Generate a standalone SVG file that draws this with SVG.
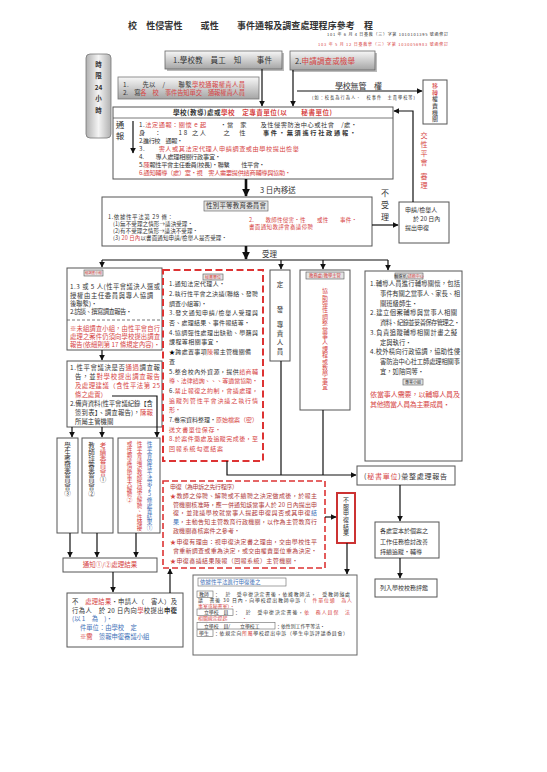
<svg xmlns="http://www.w3.org/2000/svg" width="547" height="772" viewBox="0 0 547 772">
<defs>
<style>
text{font-family:"Noto Sans CJK TC","Noto Sans CJK SC",sans-serif;fill:#333;}
.r{fill:#d64545}
.b{fill:#3f72b8}
.dr{fill:#b03a3a}
.bx{fill:#fff;stroke:#555;stroke-width:1}
.tb{fill:#e4e4e4;stroke:#555;stroke-width:0.6}
.ln{fill:none;stroke:#111;stroke-width:1.2}
.thk{fill:none;stroke:#111;stroke-width:2.6}
.v{writing-mode:vertical-rl;text-orientation:upright}
</style>
<linearGradient id="g1" x1="0" y1="0" x2="0" y2="1"><stop offset="0" stop-color="#f7f7f7"/><stop offset="1" stop-color="#a5a5a5"/></linearGradient>
<linearGradient id="g2" x1="0" y1="0" x2="1" y2="0"><stop offset="0" stop-color="#b0b0b0"/><stop offset="0.5" stop-color="#f4f4f4"/><stop offset="1" stop-color="#b0b0b0"/></linearGradient>
<marker id="ah" viewBox="0 0 10 10" refX="9" refY="5" markerUnits="userSpaceOnUse" markerWidth="6" markerHeight="6" orient="auto"><path d="M0,0L10,5L0,10z" fill="#111"/></marker>
<marker id="ahb" viewBox="0 0 10 10" refX="9" refY="5" markerUnits="userSpaceOnUse" markerWidth="8" markerHeight="8" orient="auto"><path d="M0,0L10,5L0,10z" fill="#111"/></marker>
</defs>
<rect width="547" height="772" fill="#fff"/>

<g id="title">
<text x="128" y="28.5" font-size="9" font-weight="bold" textLength="245" fill="#222">校　性侵害性　　或性　　事件通報及調查處理程序參考　程</text>
<text x="327" y="35.5" font-size="4" textLength="121" fill="#6a3535">101 年 6 月 4 日臺教（三）字第 1010101395 號函修訂</text>
<text x="318" y="45.5" font-size="4" textLength="130" class="r">103 年 5 月 12 日臺教學（三）字第 1030056983 號函修訂</text>
</g>

<g id="timebox">
<rect x="86" y="54" width="25" height="84" rx="4" fill="url(#g2)" stroke="#777" stroke-width="0.8"/>
<g font-size="6.5" font-weight="bold" text-anchor="middle" fill="#222">
<text x="98.5" y="66.5">時</text>
<text x="98.5" y="77.5">限</text>
<text x="98.5" y="89.5">24</text>
<text x="98.5" y="100.5">小</text>
<text x="98.5" y="112.5">時</text>
</g>
</g>

<g id="n1">
<rect x="167" y="53" width="117" height="18" fill="#bbb"/>
<rect x="165" y="51" width="117" height="18" fill="url(#g1)" stroke="#666" stroke-width="0.8"/>
<text x="173" y="62.8" font-size="7.5" textLength="99">1.學校教　員工　知　　事件</text>
</g>

<g id="n2">
<rect x="292" y="53" width="85" height="19" fill="#bbb"/>
<rect x="290" y="51" width="85" height="19" fill="url(#g1)" stroke="#666" stroke-width="0.8"/>
<text x="295" y="63.5" font-size="7.5" textLength="60">2.<tspan class="r">申請調查或檢舉</tspan></text>
</g>

<g id="n3">
<rect x="118" y="77" width="141" height="22" fill="url(#g1)" stroke="#777" stroke-width="0.8"/>
<text x="123" y="87.3" font-size="6.3" textLength="122">1.　　先以　/　　聯繫<tspan class="r">學校通報權責人員</tspan></text>
<text x="123" y="95.3" font-size="6.3" textLength="122">2.　寫<tspan class="r">各　校　事件告知單交　通報權責人員</tspan></text>
</g>

<g id="n4">
<text x="335" y="89" font-size="8" textLength="47">學校無管　權</text>
<text x="312" y="98.5" font-size="4.2" textLength="103">(如：校長為行為人、　校事件　主責學校等)</text>
</g>

<g id="n5">
<rect x="423" y="80" width="24" height="44" class="bx"/>
<text x="435" y="83" font-size="6" class="v" letter-spacing="0.6"><tspan class="r">移轉</tspan>權責機關</text>
</g>

<g id="n6">
<rect x="113" y="107" width="280" height="72" class="bx"/>
<line x1="113" y1="118" x2="393" y2="118" stroke="#555" stroke-width="0.8"/>
<text x="173" y="115" font-size="6.6" font-weight="bold" textLength="159">學校(教導)處或<tspan class="r">學校　定專責單位(以　　秘書單位)</tspan></text>
<text x="120" y="128" font-size="8.5" text-anchor="middle" fill="#777">通</text>
<text x="120" y="139" font-size="8.5" text-anchor="middle" fill="#777">報</text>
<g font-size="6.2">
<text x="139" y="126.8" textLength="218">1.<tspan class="r">法定通報：關懷 e 起</tspan>　　・當　家　　及性侵害防治中心或社會　/處・</text>
<text x="139" y="134.9" textLength="217">身　：　　18 之人　　之　性　　<tspan font-weight="bold">事件・無須進行社政通報・</tspan></text>
<text x="139" y="143" textLength="44">2.進行校　通報・</text>
<text x="139" y="151.1" textLength="160">3.<tspan class="r">　　害人或其法定代理人申請調查或由學校提出檢舉</tspan></text>
<text x="139" y="159.2" textLength="82">4.　　專人處理相關行政事宜・</text>
<text x="139" y="167.3" textLength="126">5.<tspan class="r">陳</tspan>報性平會主任委員(校長)・聯繫　　性平會・</text>
<text x="139" y="175.4" textLength="152" class="r">6.通知輔導（處）室・視　害人需要提供諮商輔導與協助・</text>
</g>
</g>

<g id="n7">
<text x="260" y="192.7" font-size="7.5">3 日內移送</text>
<text x="385" y="196" font-size="8" text-anchor="middle" fill="#555">不</text>
<text x="385" y="208" font-size="8" text-anchor="middle" fill="#555">受</text>
<text x="385" y="220" font-size="8" text-anchor="middle" fill="#555">理</text>
<g font-size="7" text-anchor="middle">
<text x="424" y="137.5" class="r">交</text>
<text x="424" y="147" class="r">性</text>
<text x="424" y="156" class="r">平</text>
<text x="424" y="165" class="r">會</text>
<text x="424" y="179" class="r">審</text>
<text x="424" y="188" class="r">理</text>
</g>
</g>

<g id="n8">
<rect x="102" y="197" width="270" height="49" class="bx"/>
<rect x="204" y="201" width="64" height="10" class="tb"/>
<text x="236" y="208.4" font-size="6.5" text-anchor="middle" textLength="60">性別平等教育委員會</text>
<g font-size="5.5">
<text x="108" y="218.8" textLength="65">1.依據性平法第 29 條：</text>
<text x="113" y="225.8" textLength="80">(1)無不受理之情形→議決受理・</text>
<text x="113" y="233" textLength="85">(2)有不受理之情形→議決不受理・</text>
<text x="113" y="240.3" textLength="114">(3) <tspan class="r">20 日內</tspan>以書面通知申請/檢舉人是否受理・</text>
<text x="249" y="222" textLength="108" class="r">2.　　教師性侵害・性　　或性　　事件・</text>
<text x="249" y="229" textLength="64" class="r">書面通知教評會審議停聘</text>
</g>
<text x="262" y="257" font-size="7.5">受理</text>
</g>

<g id="n9">
<rect x="399" y="202" width="50" height="41" class="bx"/>
<g font-size="6">
<text x="405" y="212.2">申請/檢舉人</text>
<text x="413" y="220.5">於 20 日內</text>
<text x="405" y="230.2">提出申復</text>
</g>
</g>

<g id="n10">
<rect x="67" y="268" width="95" height="82" class="bx"/>
<rect x="84" y="270" width="19" height="6" class="tb" fill="#fff"/>
<text x="93.5" y="274.4" font-size="3.4" text-anchor="middle" class="r">組調查小組</text>
<line x1="67" y1="320" x2="162" y2="320" stroke="#555" stroke-width="0.8" stroke-dasharray="3,2"/>
<g font-size="6.3">
<text x="70" y="289.3" textLength="90">1.3 或 5 人(性平會議決人選或</text>
<text x="70" y="297.5" textLength="83">授權由主任委員與專人協調</text>
<text x="70" y="305.7">後聯繫)・</text>
<text x="70" y="313.9" textLength="62">2.訪談、撰寫調查報告・</text>
<text x="70" y="331" textLength="90" class="r">※未組調查小組，由性平會自行</text>
<text x="70" y="339.2" textLength="90" class="r">處理之案件仍須向學校提出調查</text>
<text x="70" y="347.4" textLength="90" class="r">報告(依細則第 17 條規定內容)・</text>
</g>
</g>

<g id="n11">
<rect x="67" y="361" width="95" height="66" class="bx"/>
<g font-size="6.4">
<text x="70" y="369.5" textLength="90">1.性平會議決是否<tspan class="r">通過</tspan>調查報</text>
<text x="75" y="378.5" textLength="85">告，並<tspan class="r">對學校提出調查報告</tspan></text>
<text x="75" y="387.5" textLength="85" class="r">及處理建議（含性平法第 25</text>
<text x="75" y="396.5" class="r">條之處置）</text>
<text x="70" y="405.5" textLength="83">2.備齊資料(性平會議紀錄【含</text>
<text x="75" y="414.5" textLength="78">簽到表】、調查報告)，<tspan class="r">陳報</tspan></text>
<text x="75" y="423.5">所屬主管機關</text>
</g>
</g>

<g id="n12">
<rect x="57" y="438" width="21" height="95" class="bx"/>
<text x="67.5" y="442" font-size="6.5" class="v" letter-spacing="0.4">學生獎懲委員會③</text>
</g>
<g id="n13">
<rect x="82" y="438" width="31" height="95" class="bx"/>
<text x="103" y="442" font-size="6.5" class="v" letter-spacing="0.4"><tspan class="r">考績委員會</tspan>①</text>
<text x="91.5" y="442" font-size="6.5" class="v" letter-spacing="0.4">教師評審委員會②</text>
</g>
<g id="n14">
<rect x="118" y="438" width="42" height="95" class="bx"/>
<text x="149.5" y="441" font-size="5.6" class="v b">性平會依性平法第25條處置結果①</text>
<text x="139.5" y="441" font-size="5.6" class="v r">性平會議決教師性侵害解聘、性騷擾</text>
<text x="129.5" y="441" font-size="5.6" class="v r">或性霸凌情節重大解聘②</text>
</g>

<g id="n15">
<rect x="63" y="558" width="94" height="14" class="bx"/>
<text x="110" y="567.3" font-size="6.5" text-anchor="middle" class="r">通知①/②處理結果</text>
</g>

<g id="n16">
<rect x="67" y="593" width="116" height="54" class="bx"/>
<g font-size="6.3">
<text x="72" y="604.3" textLength="105">不　<tspan class="r">處理結果</tspan>・申請人（　害人）及</text>
<text x="72" y="612.8" textLength="105">行為人　於 20 日內向<tspan class="r">學</tspan>校提出<tspan font-weight="bold">申復</tspan></text>
<text x="72" y="620.8" class="b">(以 1　為　)・</text>
<text x="80" y="629.5" class="b">件單位：由學校　定</text>
<text x="80" y="638.5"><tspan class="r">※需</tspan><tspan class="b">　簽報申復審議小組</tspan></text>
</g>
</g>

<g id="n17">
<rect x="163" y="270" width="100" height="191" fill="#fff" stroke="#d33" stroke-width="2" stroke-dasharray="7,3.5"/>
<rect x="203" y="274" width="20" height="6" class="tb" fill="#fff"/>
<text x="213" y="278.5" font-size="4" text-anchor="middle" class="r">秘書單位</text>
<g font-size="6">
<text x="169" y="286.2" textLength="56">1.通知法定代理人・</text>
<text x="169" y="295.9" textLength="89">2.執行性平會之決議(聯絡、發聘</text>
<text x="169" y="305.6">調查小組等)・</text>
<text x="169" y="315.3" textLength="89">3.發文通知申請/檢舉人受理與</text>
<text x="169" y="325" textLength="81">否、處理結果、事件報結等・</text>
<text x="169" y="334.7" textLength="89">4.協調彈性處理出缺勤、學籍與</text>
<text x="169" y="344.4" textLength="51">課程等相關事宜・</text>
<text x="169" y="354.1" textLength="82"><tspan fill="#000">★</tspan>跨處置事項<tspan class="r">陳</tspan>報主管機關備</text>
<text x="169" y="363.8">查</text>
<text x="169" y="373.5" textLength="89">5.整合校內外資源，提供<tspan class="r">諮商輔</tspan></text>
<text x="169" y="383.2" textLength="89" class="r">導、法律諮詢、、、等適當協助・</text>
<text x="169" y="392.9" textLength="89">6.<tspan class="r">禁止報復之約制，會議處理，</tspan></text>
<text x="169" y="402.6" textLength="89" class="r">追蹤列管性平會決議之執行情</text>
<text x="169" y="412.3" class="r">形・</text>
<text x="169" y="422" textLength="89">7.卷宗資料整理・<tspan class="r">原始檔案（密）</tspan></text>
<text x="169" y="431.7" textLength="52" class="r">送文書單位保存・</text>
<text x="169" y="441.4" textLength="89" class="r">8.於案件懲處及追蹤完成後，至</text>
<text x="169" y="451.1" textLength="54" class="r">回報系統勾選結案</text>
</g>
</g>

<g id="n18">
<rect x="270" y="270" width="20" height="91" class="bx"/>
<g font-size="6.5" text-anchor="middle">
<text x="280" y="287.3" fill="#3a8ab8">定</text>
<text x="280" y="312.3" fill="#3a8ab8">發</text>
<text x="280" y="327.3" fill="#3a8ab8">專</text>
<text x="280" y="336.3" fill="#3a8ab8">責</text>
<text x="280" y="345.3" fill="#3a8ab8">人</text>
<text x="280" y="354.3" fill="#3a8ab8">員</text>
</g>
</g>

<g id="n19">
<rect x="300" y="270" width="50" height="140" class="bx"/>
<rect x="306" y="272" width="38" height="7" class="tb" fill="#fff"/>
<text x="325" y="277.2" font-size="4.3" text-anchor="middle" class="r">教務處/教學主管</text>
<text x="325" y="288" font-size="6" class="v r" letter-spacing="0.4">協助彈性調整當事人課程或教學事宜</text>
</g>

<g id="n20">
<rect x="365" y="271" width="97" height="190" class="bx"/>
<rect x="395" y="273" width="28" height="6" class="tb" fill="#fff"/>
<text x="409" y="277.5" font-size="4" text-anchor="middle">輔導室/<tspan class="r">諮商中心</tspan></text>
<g font-size="6.3">
<text x="370" y="286.3" textLength="90">1.輔導人員進行輔導關懷，包括</text>
<text x="380" y="296" textLength="80">事件有關之當事人、家長、相</text>
<text x="380" y="305.7">關班級師生・</text>
<text x="370" y="315.4" textLength="87">2.建立個案輔導與當事人相關</text>
<text x="380" y="325.1" textLength="80">資料、紀錄並妥善保存管理之・</text>
<text x="370" y="334.8" textLength="87">3.負責追蹤輔導相關計畫之擬</text>
<text x="380" y="344.5">定與執行・</text>
<text x="370" y="354.2" textLength="90">4.校外橫向行政協調，協助性侵</text>
<text x="380" y="363.9" textLength="80">害防治中心社工師處理相關事</text>
<text x="380" y="373.6">宜，如陪同等・</text>
</g>
<rect x="403" y="379" width="20" height="6" class="tb"/>
<text x="413" y="383.5" font-size="4" text-anchor="middle">專業小組</text>
<text x="370" y="396.5" font-size="7" textLength="90" class="r">依當事人需要，以輔導人員及</text>
<text x="370" y="406.5" font-size="7" textLength="80" class="r">其他適當人員為主要成員・</text>
</g>

<g id="n21">
<rect x="357" y="466" width="98" height="19" class="bx"/>
<text x="364" y="478.5" font-size="7" textLength="83">(<tspan class="r">秘書單位</tspan>)彙整處理報告</text>
</g>

<g id="n22">
<rect x="375" y="522" width="64" height="36" class="bx"/>
<g font-size="6">
<text x="380" y="533.2">各處室本於個案之</text>
<text x="380" y="544.2">工作任務檢討改善</text>
<text x="380" y="554.2">持續追蹤・輔導</text>
</g>
</g>

<g id="n23">
<rect x="375" y="579" width="62" height="18" class="bx"/>
<text x="380" y="590.2" font-size="6">列入學校校務評鑑</text>
</g>

<g id="n24">
<rect x="163" y="481" width="162" height="87" fill="#fff" stroke="#d33" stroke-width="1.6" stroke-dasharray="6,3"/>
<g font-size="6">
<text x="170" y="489.2" textLength="68" class="dr">申復（為申訴之先行程序）</text>
<text x="170" y="498.2" textLength="147" class="dr"><tspan class="r">★</tspan>教師之停聘、解聘或不續聘之決定做成後，於報主</text>
<text x="173" y="506.8" textLength="144" class="dr">管機關核准時，應一併通知該當事人於 20 日內提出申</text>
<text x="173" y="515.4" textLength="144" class="dr">復，並建議學校就當事人提起申復與否或其申復<tspan class="b">結</tspan></text>
<text x="173" y="524" textLength="144" class="dr"><tspan class="b">果</tspan>，主動告知主管教育行政機關，以作為主管教育行</text>
<text x="173" y="532.6" textLength="67" class="dr">政機關審核案件之參考・</text>
<text x="170" y="544.2" textLength="147" class="dr"><tspan class="r">★</tspan>申復有理由：視申復決定書之理由，交由學校性平</text>
<text x="173" y="553.2" textLength="144" class="dr">會重新調查或重為決定，或交由權責單位重為決定・</text>
<text x="170" y="563.2" textLength="128" class="dr"><tspan class="r">★</tspan>申復審議結果陳報（回報系統）主管機關・</text>
</g>
</g>

<g id="n25">
<rect x="337" y="493" width="18" height="50" fill="#fff" stroke="#c33" stroke-width="2"/>
<text x="346" y="497" font-size="6" class="v" letter-spacing="0.6">不服申復結果</text>
</g>

<g id="n26">
<rect x="193" y="575" width="164" height="80" fill="#fff" stroke="#666" stroke-width="1"/>
<rect x="198" y="578" width="88" height="8" fill="#fff" stroke="#666" stroke-width="0.6"/>
<text x="200" y="584.2" font-size="5.5" class="b">依據性平法進行申復後之</text>
<g font-size="4.9">
<rect x="197" y="591" width="16" height="6.5" fill="none" stroke="#666" stroke-width="0.6"/>
<text x="199" y="596">教師</text>
<text x="214" y="596" textLength="136">：　於　受申復決定書後，依據教師法，　受教師懲處</text>
<text x="198" y="602" textLength="154">議　書後 30 日內，向學校提出教師申訴（<tspan class="r">　件單位通　為人</tspan></text>
<text x="198" y="608" class="r">事室或秘書室）・</text>
<text x="199" y="614">　立學校　員</text>
<rect x="197" y="609" width="36" height="6.5" fill="none" stroke="#666" stroke-width="0.6"/>
<text x="234" y="614" textLength="116">：　於　受申復決定書後，<tspan class="r">依　務人員保　法</tspan></text>
<text x="198" y="620" class="r">相關規定提起　　　・</text>
<rect x="197" y="622.5" width="78" height="6.5" fill="none" stroke="#666" stroke-width="0.6"/>
<text x="199" y="627.5">　立學校　員/　　立學校工　</text>
<text x="276" y="627.5">：依性別工作平等法・</text>
<rect x="197" y="629.8" width="16" height="6.5" fill="none" stroke="#666" stroke-width="0.6"/>
<text x="199" y="634.8">學生</text>
<text x="214" y="634.8" textLength="134">：依規定向<tspan class="r">所屬</tspan>學校提出申訴（學生申訴評議委員會）</text>
</g>
</g>

<g id="connectors">
<line x1="262" y1="69" x2="262" y2="106" class="ln" marker-end="url(#ah)"/>
<line x1="293" y1="70" x2="293" y2="106" class="ln" marker-end="url(#ah)"/>
<line x1="297" y1="91" x2="422" y2="91" class="ln" marker-end="url(#ah)"/>
<line x1="133" y1="121" x2="133" y2="153" class="ln" marker-end="url(#ah)"/>
<line x1="246" y1="179" x2="246" y2="196" class="thk" marker-end="url(#ahb)"/>
<line x1="372" y1="225" x2="398" y2="225" class="ln" marker-end="url(#ah)"/>
<polyline points="413,202 413,111 394,111" class="ln" marker-end="url(#ah)"/>
<line x1="246" y1="246" x2="246" y2="259" class="thk" marker-end="url(#ahb)"/>
<line x1="102" y1="260" x2="388" y2="260" class="ln"/>
<line x1="102" y1="260" x2="102" y2="267" class="ln" marker-end="url(#ah)"/>
<line x1="281" y1="260" x2="281" y2="269" class="ln" marker-end="url(#ah)"/>
<line x1="323" y1="260" x2="323" y2="269" class="ln" marker-end="url(#ah)"/>
<line x1="388" y1="260" x2="388" y2="270" class="ln" marker-end="url(#ah)"/>
<line x1="102" y1="350" x2="102" y2="360" class="ln" marker-end="url(#ah)"/>
<polyline points="112,396 157,396 157,437" class="ln" marker-end="url(#ah)"/>
<line x1="72" y1="427" x2="72" y2="437" class="ln" marker-end="url(#ah)"/>
<line x1="102" y1="427" x2="102" y2="437" class="ln" marker-end="url(#ah)"/>
<line x1="70" y1="533" x2="70" y2="557" class="ln" marker-end="url(#ah)"/>
<line x1="97" y1="533" x2="97" y2="557" class="ln" marker-end="url(#ah)"/>
<line x1="136" y1="533" x2="136" y2="557" class="ln" marker-end="url(#ah)"/>
<line x1="113" y1="572" x2="113" y2="592" class="ln" marker-end="url(#ah)"/>
<line x1="170" y1="593" x2="170" y2="569" class="ln" marker-end="url(#ah)"/>
<polyline points="227,461 227,475 356,475" class="ln" marker-end="url(#ah)"/>
<line x1="281" y1="361" x2="281" y2="475" class="ln"/>
<line x1="323" y1="410" x2="323" y2="475" class="ln"/>
<line x1="400" y1="485" x2="400" y2="521" class="ln" marker-end="url(#ah)"/>
<line x1="400" y1="558" x2="400" y2="578" class="ln" marker-end="url(#ah)"/>
<line x1="325" y1="517" x2="336" y2="517" class="ln" marker-end="url(#ah)"/>
<line x1="347" y1="543" x2="347" y2="574" class="ln" marker-end="url(#ah)"/>
</g>
</svg>
